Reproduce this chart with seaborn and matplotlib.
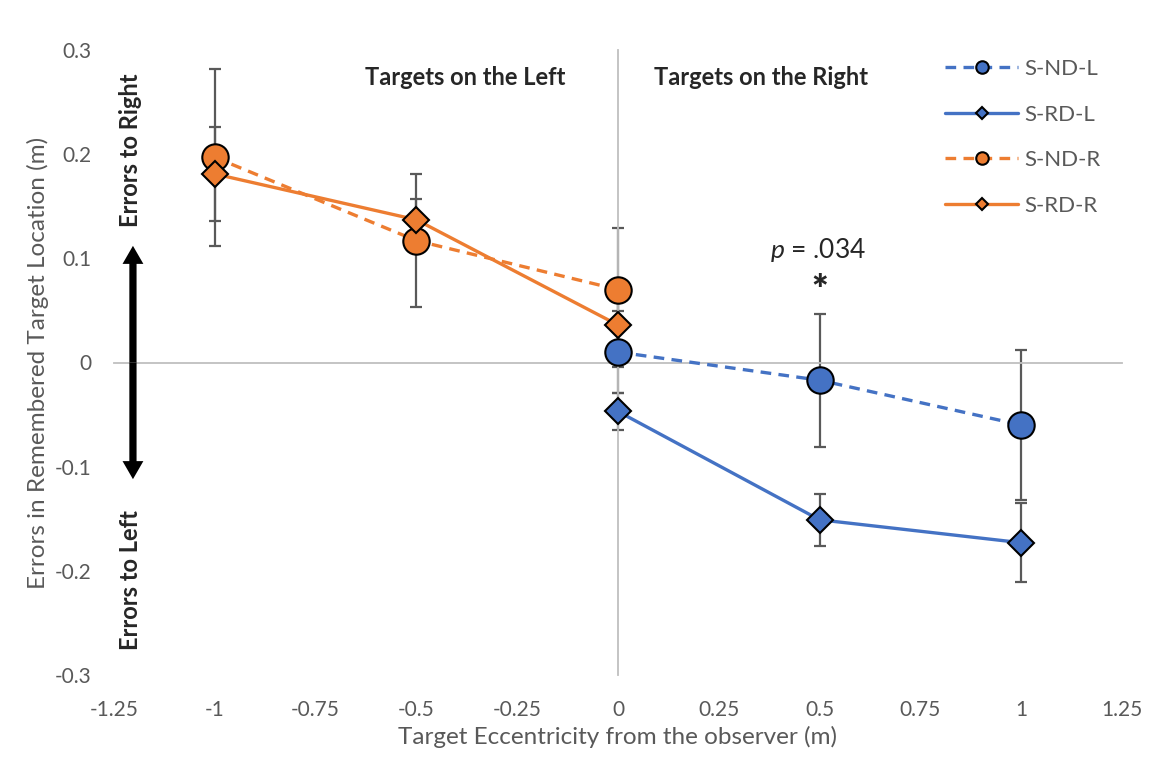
import matplotlib
matplotlib.use("Agg")
import matplotlib.pyplot as plt
from matplotlib.lines import Line2D
import seaborn as sns
import pandas as pd

# Data

series_names = ["S-ND-L", "S-RD-L", "S-ND-R", "S-RD-R"]

s_nd_l_x = [0, 0.5, 1]
s_nd_l_y = [0.010, -0.017, -0.060]
s_nd_l_err = [0.039, 0.064, 0.072]

s_rd_l_x = [0, 0.5, 1]
s_rd_l_y = [-0.047, -0.151, -0.173]
s_rd_l_err = [0.018, 0.025, 0.038]

s_nd_r_x = [-1, -0.5, 0]
s_nd_r_y = [0.197, 0.117, 0.070]
s_nd_r_err = [0.085, 0.064, 0.059]

s_rd_r_x = [-1, -0.5, 0]
s_rd_r_y = [0.181, 0.137, 0.036]
s_rd_r_err = [0.045, 0.020, 0.040]

x_ticks = [-1.25, -1, -0.75, -0.5, -0.25, 0, 0.25, 0.5, 0.75, 1, 1.25]
x_tick_labels = ["-1.25", "-1", "-0.75", "-0.5", "-0.25", "0",
                 "0.25", "0.5", "0.75", "1", "1.25"]
y_ticks = [-0.3, -0.2, -0.1, 0, 0.1, 0.2, 0.3]
y_tick_labels = ["-0.3", "-0.2", "-0.1", "0", "0.1", "0.2", "0.3"]

# Style

sns.set_style("white")
plt.rcParams['font.family'] = ['Lato', 'DejaVu Sans']
plt.rcParams['mathtext.fontset'] = 'custom'
plt.rcParams['mathtext.rm'] = 'Lato'
plt.rcParams['mathtext.it'] = 'Lato:italic'

blue = "#4472C4"
orange = "#ED7D31"
text_gray = "#595959"
axis_gray = "#BFBFBF"

styles = {
    "S-ND-L": dict(color=blue, ls=(0, (3.2, 2.2)), marker="o", ms=19),
    "S-RD-L": dict(color=blue, ls="-", marker="D", ms=13),
    "S-ND-R": dict(color=orange, ls=(0, (3.2, 2.2)), marker="o", ms=19),
    "S-RD-R": dict(color=orange, ls="-", marker="D", ms=13),
}

frames = []
for name, xs, ys, es in [
    ("S-ND-L", s_nd_l_x, s_nd_l_y, s_nd_l_err),
    ("S-RD-L", s_rd_l_x, s_rd_l_y, s_rd_l_err),
    ("S-ND-R", s_nd_r_x, s_nd_r_y, s_nd_r_err),
    ("S-RD-R", s_rd_r_x, s_rd_r_y, s_rd_r_err),
]:
    frames.append(pd.DataFrame({"x": xs, "y": ys, "err": es, "series": name}))
df = pd.concat(frames, ignore_index=True)

# Figure

fig = plt.figure(figsize=(11.53, 7.57), dpi=100)
ax = fig.add_axes([114 / 1153, 1 - 675 / 757, 1008 / 1153, 625 / 757])

# Error bars first, under the lines
for name in series_names:
    d = df[df["series"] == name]
    ax.errorbar(
        d["x"], d["y"], yerr=d["err"],
        fmt="none",
        ecolor=text_gray,
        elinewidth=1.6,
        capsize=4.5,
        capthick=1.6,
        zorder=2
    )

for name in series_names:
    d = df[df["series"] == name]
    st = styles[name]
    sns.lineplot(
        data=d, x="x", y="y",
        color=st["color"],
        linestyle=st["ls"],
        linewidth=2.4,
        marker=st["marker"],
        markersize=st["ms"],
        markeredgecolor="black",
        markeredgewidth=1.5,
        errorbar=None,
        legend=False,
        ax=ax,
        zorder=3
    )

ax.set_xlim(-1.25, 1.25)
ax.set_ylim(-0.3, 0.3)

# Excel style axes crossing at zero
ax.spines["left"].set_position(("data", 0))
ax.spines["bottom"].set_position(("data", 0))
ax.spines["top"].set_visible(False)
ax.spines["right"].set_visible(False)
for s in ["left", "bottom"]:
    ax.spines[s].set_color(axis_gray)
    ax.spines[s].set_linewidth(1.3)

ax.set_xticks(x_ticks)
ax.set_yticks(y_ticks)
ax.tick_params(axis="both", direction="out", length=5, width=1.3,
               color=axis_gray, labelbottom=False, labelleft=False)
ax.set_xlabel("")
ax.set_ylabel("")

# Tick labels at the low edges
sec_x = ax.secondary_xaxis("bottom")
sec_x.set_xticks(x_ticks, labels=x_tick_labels)
sec_x.tick_params(length=0, pad=18, labelcolor=text_gray, labelsize=15)
sec_x.spines["bottom"].set_visible(False)
sec_x.set_xlabel("Target Eccentricity from the observer (m)",
                 color=text_gray, fontsize=17.5, labelpad=4)

sec_y = ax.secondary_yaxis("left")
sec_y.set_yticks(y_ticks, labels=y_tick_labels)
sec_y.tick_params(length=0, pad=16, labelcolor=text_gray, labelsize=15)
sec_y.spines["left"].set_visible(False)
sec_y.set_ylabel("Errors in Remembered Target Location (m)",
                 color=text_gray, fontsize=17.5, labelpad=4)

# Annotations
ax.text(-0.38, 0.274, "Targets on the Left", ha="center", va="center",
        fontsize=17, fontweight="bold")
ax.text(0.355, 0.274, "Targets on the Right", ha="center", va="center",
        fontsize=17, fontweight="bold")
ax.text(0.496, 0.108, "$p$ = .034", ha="center", va="center", fontsize=19)
ax.text(0.5, 0.068, "*", ha="center", va="center", fontsize=28,
        fontweight="heavy")

arrow_x = -1.203
for tip in [0.112, -0.112]:
    ax.annotate(
        "", xy=(arrow_x, tip), xytext=(arrow_x, 0),
        arrowprops=dict(
            arrowstyle="simple,head_length=0.65,head_width=0.75,tail_width=0.26",
            fc="black", ec="black", lw=0,
            shrinkA=0, shrinkB=0, mutation_scale=20
        ),
        annotation_clip=False
    )

ax.text(-1.208, 0.204, "Errors to Right", rotation=90, ha="center",
        va="center", fontsize=17, fontweight="bold")
ax.text(-1.208, -0.209, "Errors to Left", rotation=90, ha="center",
        va="center", fontsize=17, fontweight="bold")

# Legend
handles = []
for name in series_names:
    st = styles[name]
    handles.append(Line2D(
        [], [], color=st["color"], linestyle=st["ls"], linewidth=2.4,
        marker=st["marker"], markersize=9 if st["marker"] == "o" else 6.5,
        markeredgecolor="black", markeredgewidth=1.5
    ))

fig.legend(
    handles, series_names,
    loc="upper left",
    bbox_to_anchor=(945 / 1153, 1 - 59 / 757),
    frameon=False,
    fontsize=16,
    labelcolor=text_gray,
    handlelength=3.3,
    handletextpad=0.25,
    labelspacing=1.15,
    borderpad=0,
    borderaxespad=0
)

fig.savefig("out.png", dpi=100)
